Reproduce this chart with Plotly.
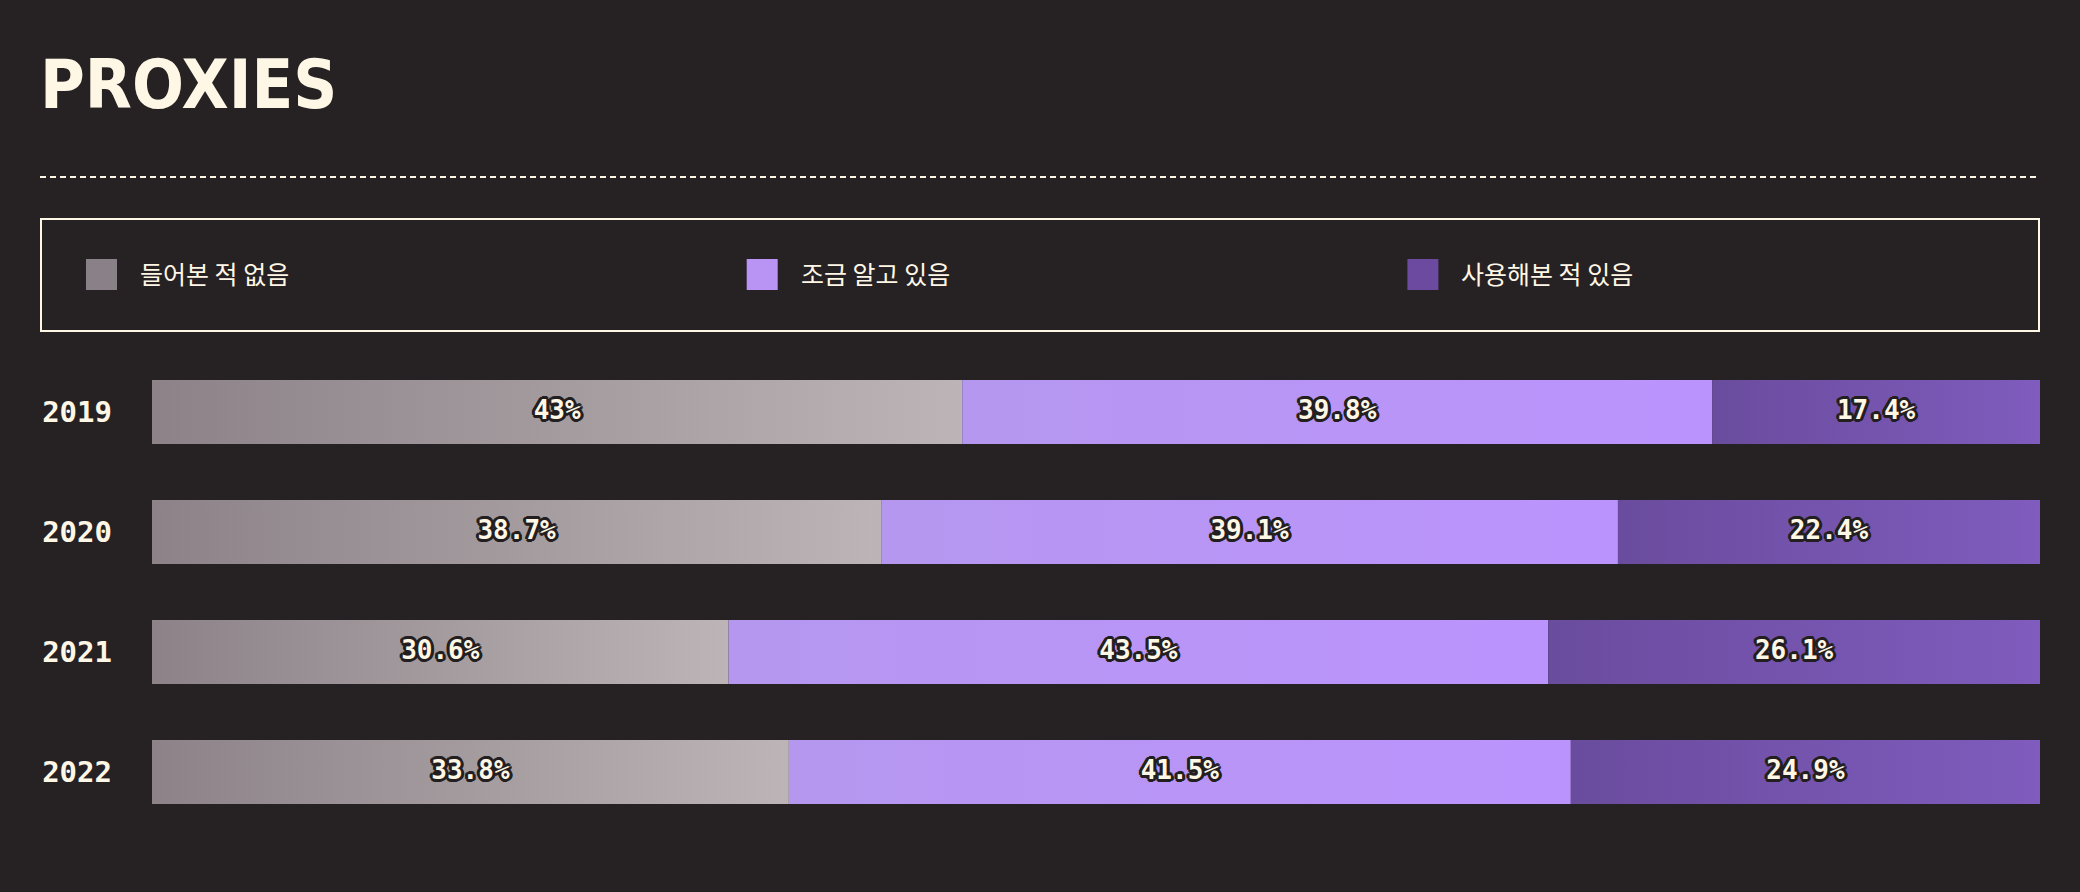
import plotly.graph_objects as go

# ---- data ----
years = ["2019", "2020", "2021", "2022"]
series_names = ["들어본 적 없음", "조금 알고 있음", "사용해본 적 있음"]
never_heard = [43.0, 38.7, 30.6, 33.8]
know_little = [39.8, 39.1, 43.5, 41.5]
have_used = [17.4, 22.4, 26.1, 24.9]
series_values = [never_heard, know_little, have_used]
title_text = "PROXIES"

# ---- style ----
W, H = 2080, 892
BG = "#262223"
CREAM = "#fff7e6"
OUTLINE = "#231f20"
grad_scales = [
    [[0, "#8c8288"], [1, "#bcb4b6"]],
    [[0, "#b597ef"], [1, "#bb93fd"]],
    [[0, "#6a4c9e"], [1, "#7f5cbd"]],
]
legend_colors = ["#8a8088", "#b994f5", "#6b4aa0"]

ML, MR, MT, MB = 152, 40, 352, 60
PW = W - ML - MR
PH = H - MT - MB


def px_x(px):
    return (px - ML) / PW


def px_y(py):
    return (H - MB - py) / PH


half = 0.2667
totals = [sum(v[i] for v in series_values) for i in range(len(years))]

fig = go.Figure()
label_x, label_y, label_t = [], [], []
for i, yr in enumerate(years):
    start = 0.0
    for s, vals in enumerate(series_values):
        v = vals[i]
        x0, x1 = start, start + v
        fig.add_trace(go.Scatter(
            x=[x0, x1, x1, x0, x0],
            y=[i - half, i - half, i + half, i + half, i - half],
            mode="lines",
            line=dict(width=0),
            fill="toself",
            fillgradient=dict(type="horizontal", colorscale=grad_scales[s]),
            name=series_names[s],
            showlegend=False,
            hoverinfo="skip",
        ))
        label_x.append((x0 + x1) / 2)
        label_y.append(i)
        label_t.append(f"{v:g}%")
        start = x1

o = OUTLINE
shadow = ", ".join(
    f"{dx}px {dy}px 0 {o}" for dx, dy in [
        (-3, 0), (3, 0), (0, -3), (0, 3), (-2, -2), (2, -2), (-2, 2), (2, 2),
        (-3, -1), (3, 1), (-1, 3), (1, -3)
    ]
)
fig.add_trace(go.Scatter(
    x=label_x, y=label_y, text=label_t, mode="text",
    textposition="middle center",
    textfont=dict(family="DejaVu Sans Mono", size=26, color=CREAM,
                  weight="bold", shadow=shadow),
    showlegend=False, hoverinfo="skip",
))

shapes = [
    dict(type="line", xref="paper", yref="paper",
         x0=px_x(40), x1=px_x(2040), y0=px_y(177), y1=px_y(177),
         line=dict(color=CREAM, width=2, dash="6px,4px")),
    dict(type="rect", xref="paper", yref="paper",
         x0=px_x(41), x1=px_x(2039), y0=px_y(219), y1=px_y(331),
         line=dict(color=CREAM, width=2), fillcolor="rgba(0,0,0,0)"),
]
annotations = [
    dict(text=title_text, xref="paper", yref="paper",
         x=px_x(38), y=px_y(84), xanchor="left", yanchor="middle",
         showarrow=False,
         font=dict(family="DejaVu Sans Condensed, DejaVu Sans, sans-serif",
                   size=68, color=CREAM, weight="bold")),
]
for k, name in enumerate(series_names):
    sx = 86 + k * 660.7
    shapes.append(dict(type="rect", xref="paper", yref="paper",
                       x0=px_x(sx), x1=px_x(sx + 31), y0=px_y(259), y1=px_y(290),
                       line=dict(width=0), fillcolor=legend_colors[k]))
    annotations.append(dict(text=name, xref="paper", yref="paper",
                            x=px_x(sx + 52), y=px_y(273), xanchor="left",
                            yanchor="middle", showarrow=False,
                            font=dict(family="Noto Sans CJK KR", size=25,
                                      color=CREAM)))

fig.update_layout(
    width=W, height=H,
    paper_bgcolor=BG, plot_bgcolor=BG,
    margin=dict(l=ML, r=MR, t=MT, b=MB),
    showlegend=False,
    shapes=shapes,
    annotations=annotations,
    xaxis=dict(range=[0, max(totals)], visible=False, fixedrange=True),
    yaxis=dict(range=[len(years) - 0.5, -0.5], tickvals=list(range(len(years))),
               ticktext=years, showgrid=False, zeroline=False, showline=False,
               ticks="", ticklabelstandoff=39,
               tickfont=dict(family="DejaVu Sans Mono", size=29, color=CREAM,
                             weight="bold"),
               fixedrange=True),
)

fig.write_html("out.html", config={"displayModeBar": False})
